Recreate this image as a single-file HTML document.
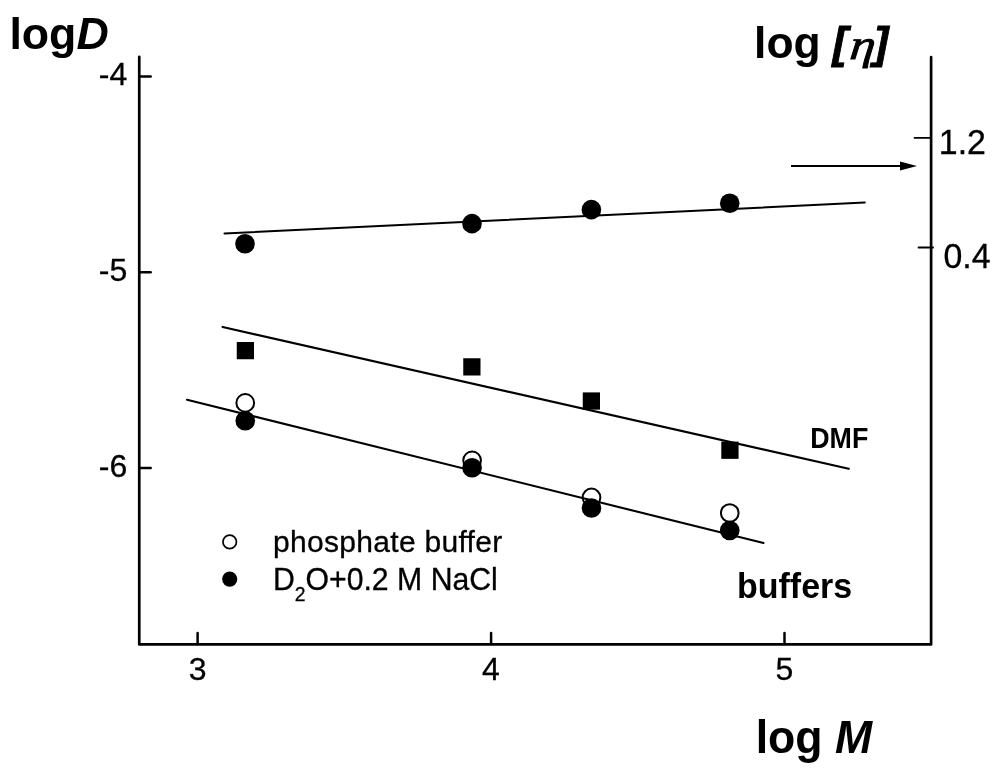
<!DOCTYPE html>
<html>
<head>
<meta charset="utf-8">
<title>logD vs log M</title>
<style>
html,body{margin:0;padding:0;background:#fff;}
body{width:1000px;height:770px;overflow:hidden;}
svg{display:block;}
text{font-family:"Liberation Sans",Arial,Helvetica,sans-serif;fill:#000;stroke:#000;stroke-width:0.3px;}
.b{stroke-width:0;}
.br{stroke-width:0.9px;}
.eta{stroke-width:0.9px;}
.b{font-weight:bold;}
.i{font-style:italic;}
.eta{font-family:"Liberation Serif","Times New Roman",serif;font-style:italic;font-weight:normal;}
</style>
</head>
<body>
<svg width="1000" height="770" viewBox="0 0 1000 770">
<rect x="0" y="0" width="1000" height="770" fill="#fff"/>

<!-- axes -->
<g stroke="#000" fill="none" stroke-linecap="butt">
  <path d="M139.25 56.9 V644.4 H931.1 V57.2" stroke-width="2.7" stroke-linecap="round" stroke-linejoin="round"/>
  <!-- left ticks -->
  <g stroke-width="2.5" stroke-linecap="round">
    <line x1="139.5" y1="76.5" x2="150.7" y2="76.5"/>
    <line x1="139.5" y1="272.3" x2="150.7" y2="272.3"/>
    <line x1="139.5" y1="467.9" x2="150.7" y2="467.9"/>
    <!-- bottom ticks -->
    <line x1="197.6" y1="644" x2="197.6" y2="633"/>
    <line x1="491.1" y1="644" x2="491.1" y2="633"/>
    <line x1="784.5" y1="644" x2="784.5" y2="633"/>
  </g>
  <!-- right ticks -->
  <g stroke-width="1.9" stroke-linecap="round">
    <line x1="914.6" y1="137.9" x2="931" y2="137.9"/>
    <line x1="918.6" y1="247.5" x2="933" y2="247.5"/>
  </g>
</g>


<!-- arrow -->
<line x1="791" y1="166" x2="902" y2="166" stroke="#000" stroke-width="2"/>
<path d="M917 166 L900 161.6 L900 170.4 Z" fill="#000"/>

<!-- upper filled circles -->
<g fill="#000">
  <circle cx="245" cy="243.75" r="9.8"/>
  <circle cx="472" cy="223.65" r="9.8"/>
  <circle cx="591.4" cy="209.65" r="9.8"/>
  <circle cx="729.75" cy="203.25" r="9.8"/>
</g>

<!-- squares -->
<g fill="#000">
  <rect x="236.75" y="342" width="17.25" height="17.25"/>
  <rect x="463.25" y="358.25" width="17.25" height="17.25"/>
  <rect x="582.75" y="392.4" width="17.25" height="17.25"/>
  <rect x="721.3" y="441.6" width="17.25" height="17.25"/>
</g>

<!-- open circles -->
<g fill="#fff" stroke="#000" stroke-width="2">
  <circle cx="245.25" cy="402.9" r="8.85"/>
  <circle cx="472.1" cy="460.4" r="8.85"/>
  <circle cx="591.5" cy="497.45" r="8.85"/>
  <circle cx="729.75" cy="513" r="8.85"/>
</g>
<!-- fit lines -->
<g stroke="#000" fill="none" stroke-linecap="round">
  <line x1="224.5" y1="233.5" x2="864.8" y2="202.5" stroke-width="2"/>
  <line x1="222.6" y1="326.95" x2="848.7" y2="468.7" stroke-width="2.2"/>
  <line x1="187" y1="399.7" x2="763.5" y2="543.05" stroke-width="2.1"/>
</g>
<!-- lower filled circles -->
<g fill="#000">
  <circle cx="245.25" cy="420.75" r="9.8"/>
  <circle cx="472.1" cy="467.7" r="9.8"/>
  <circle cx="591.5" cy="508" r="9.8"/>
  <circle cx="729.75" cy="530.5" r="9.8"/>
</g>

<!-- legend -->
<circle cx="229.7" cy="541.9" r="6.75" fill="#fff" stroke="#000" stroke-width="1.7"/>
<circle cx="229.7" cy="579.1" r="7.6" fill="#000"/>
<text x="273.1" y="551.7" font-size="30" letter-spacing="0.3">phosphate buffer</text>
<text x="0" y="0" font-size="30.3" transform="translate(272.9 589.6) scale(0.998 1.015)">D<tspan font-size="19.4" dy="11.4">2</tspan><tspan dy="-11.4">O+0.2 M NaCl</tspan></text>

<!-- axis tick labels -->
<g font-size="32" text-anchor="end">
  <text x="127.3" y="84.9">-4</text>
  <text x="127.3" y="280.9">-5</text>
  <text x="127.3" y="477">-6</text>
</g>
<g font-size="32" text-anchor="middle">
  <text x="197.6" y="680.2">3</text>
  <text x="491" y="680.2">4</text>
  <text x="784.5" y="680.2">5</text>
</g>
<g font-size="35">
  <text x="0" y="0" transform="translate(938.8 154.4) scale(0.97 1.02)">1.2</text>
  <text x="0" y="0" transform="translate(943.5 267.6) scale(0.968 1.02)">0.4</text>
</g>

<!-- titles -->
<text x="9.4" y="49.2" font-size="44.7" class="b">log<tspan class="i">D</tspan></text>
<text x="754.1" y="58" font-size="44.4" class="b">log</text>
<text x="832.4" y="58" font-size="44.4" class="b i br">[</text>
<text class="eta" x="0" y="0" font-size="42.3" transform="translate(849 58.5) skewX(-6) scale(1.2 1)">η</text>
<text x="873.7" y="58" font-size="44.4" class="b i br">]</text>
<text x="0" y="0" font-size="44.8" class="b" transform="translate(755.7 752.7) scale(0.995 1.025)">log <tspan class="i">M</tspan></text>
<text x="0" y="0" font-size="29.8" class="b" transform="translate(810.2 447.8) scale(0.9 1)">DMF</text>
<text x="0" y="0" font-size="34" class="b" transform="translate(737 598) scale(1 1.04)">buffers</text>
</svg>
</body>
</html>
